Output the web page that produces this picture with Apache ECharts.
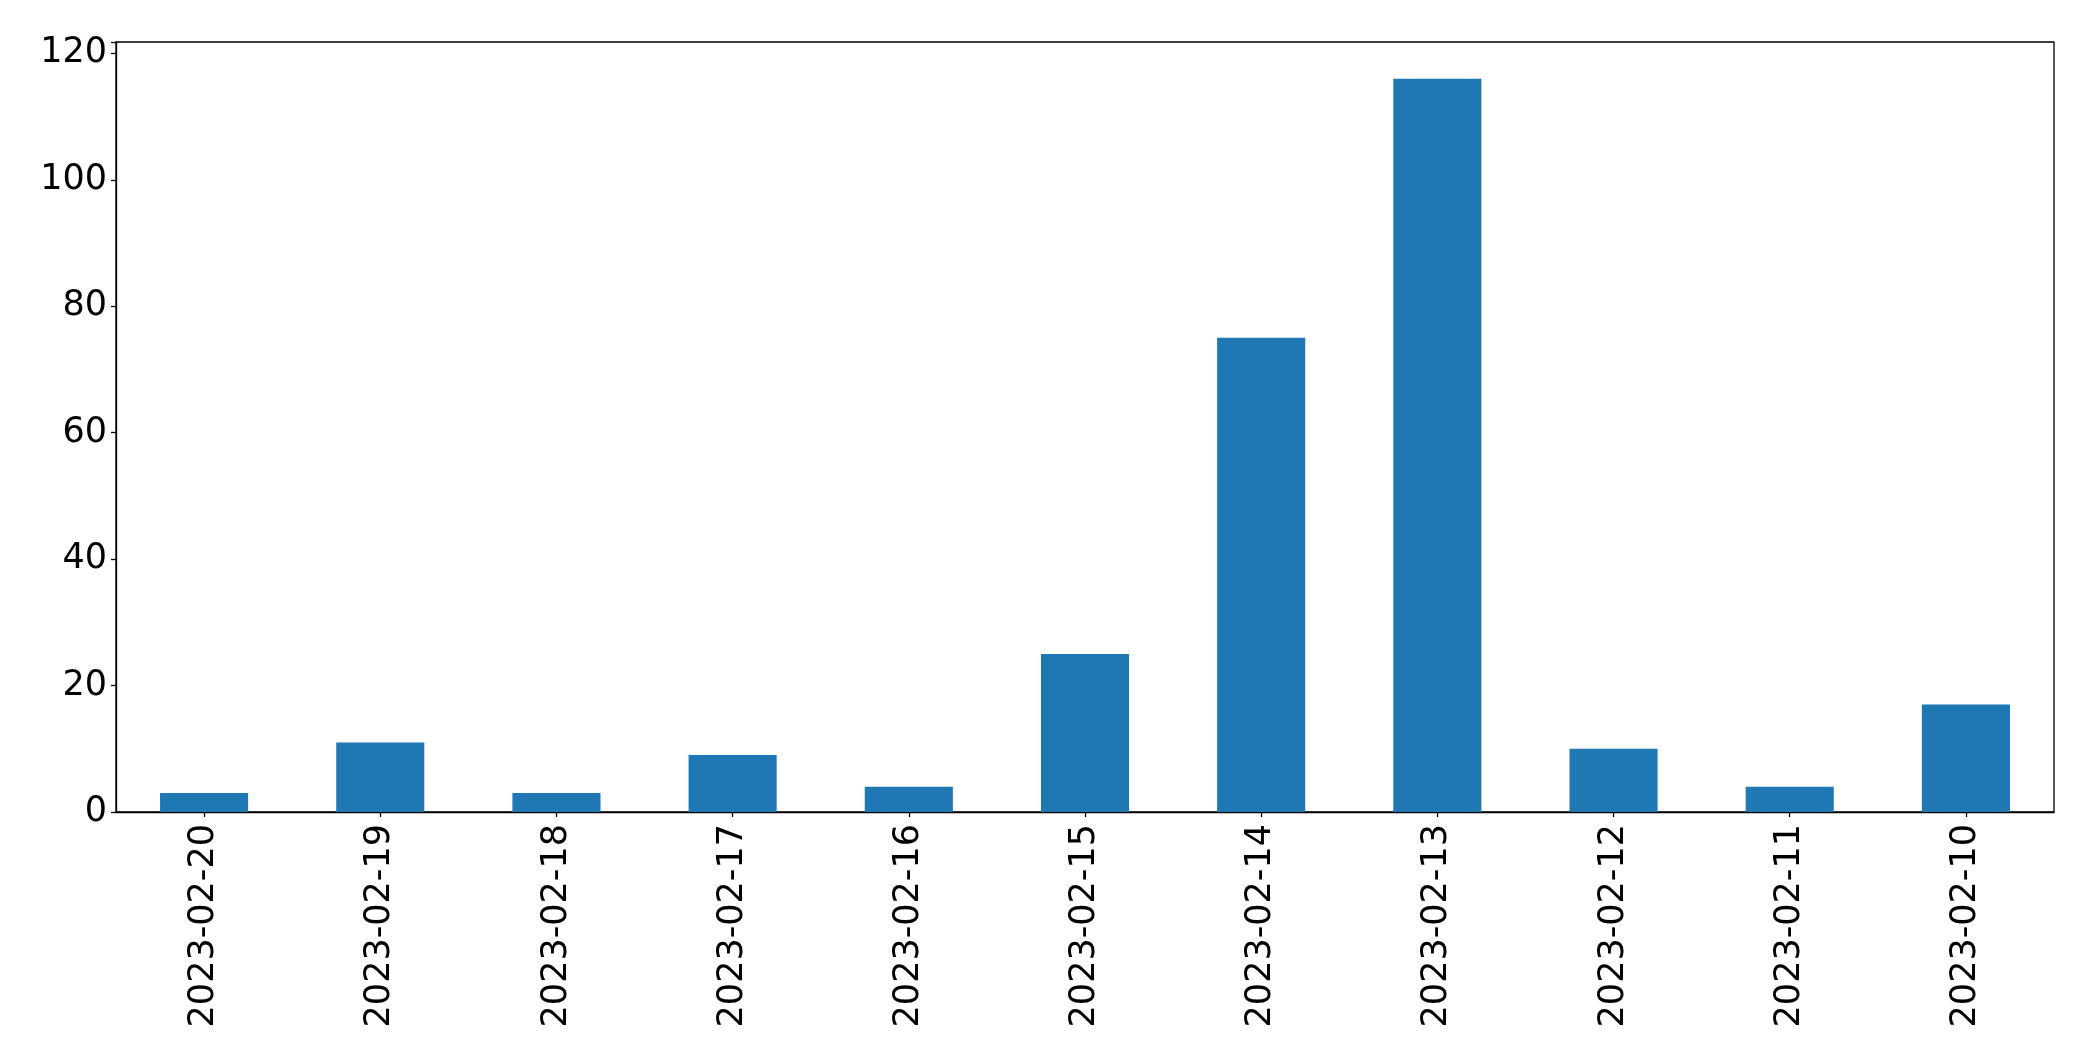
<!DOCTYPE html>
<html>
<head>
<meta charset="utf-8">
<script src="https://cdn.jsdelivr.net/npm/echarts@6/dist/echarts.min.js"></script>
<style>html,body{margin:0;padding:0;background:#fff;}#c{width:2093px;height:1064px;}</style>
</head>
<body>
<div id="c"></div>
<script>
const categories = ["2023-02-20","2023-02-19","2023-02-18","2023-02-17","2023-02-16","2023-02-15","2023-02-14","2023-02-13","2023-02-12","2023-02-11","2023-02-10"];
const values = [3, 11, 3, 9, 4, 25, 75, 116, 10, 4, 17];
const yMax = 121.8;

const chart = echarts.init(document.getElementById('c'), null, {renderer: 'canvas'});
const font = 'DejaVu Sans';
chart.setOption({
  animation: false,
  backgroundColor: '#fff',
  grid: {left: 116, top: 42, right: 39, bottom: 252, show: true, borderColor: '#000', borderWidth: 1.3, backgroundColor: 'transparent'},
  xAxis: {
    type: 'category',
    data: categories,
    boundaryGap: true,
    axisLine: {show: true, lineStyle: {color: '#000', width: 1.3}},
    axisTick: {show: true, alignWithLabel: true, length: 5, lineStyle: {color: '#000', width: 1.3}},
    axisLabel: {rotate: 90, color: '#000', fontFamily: font, fontSize: 35, margin: 12, interval: 0},
    splitLine: {show: false}
  },
  yAxis: {
    type: 'value',
    min: 0, max: yMax, interval: 20,
    axisLine: {show: true, lineStyle: {color: '#000', width: 1.3}},
    axisTick: {show: true, length: 5, lineStyle: {color: '#000', width: 1.3}},
    axisLabel: {color: '#000', fontFamily: font, fontSize: 35, margin: 9,
      formatter: v => (v % 20 === 0 ? String(v) : '')},
    splitLine: {show: false}
  },
  series: [{
    type: 'bar',
    data: values,
    barWidth: '50%',
    itemStyle: {color: '#1f77b4'}
  }]
});
</script>
</body>
</html>
